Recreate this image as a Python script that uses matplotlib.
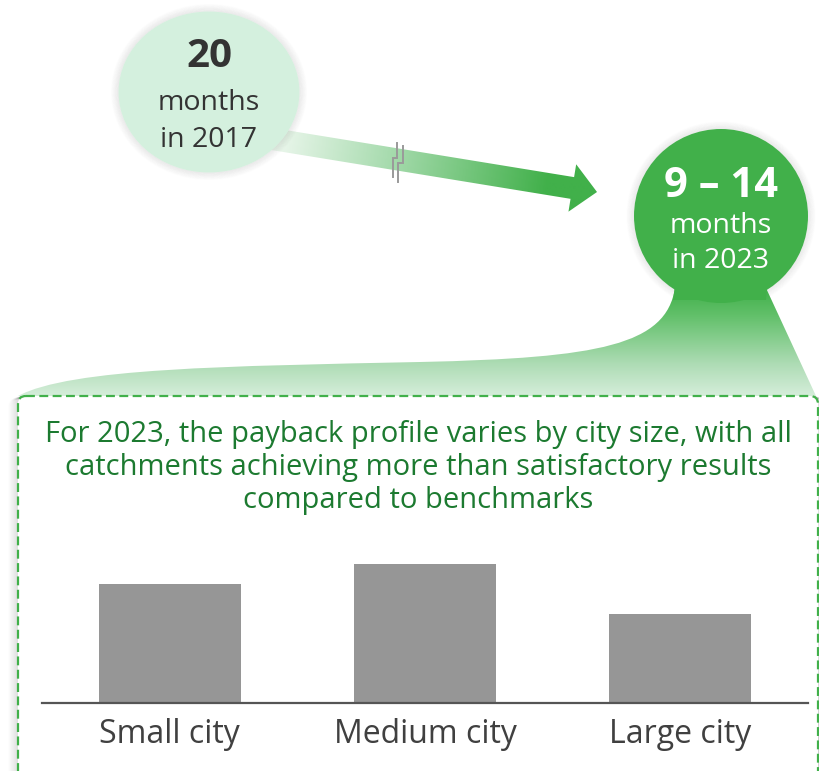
import numpy as np
import matplotlib
matplotlib.use("Agg")
import matplotlib.pyplot as plt
from matplotlib.patches import Circle, Ellipse, Polygon, PathPatch, FancyBboxPatch
from matplotlib.path import Path
from matplotlib.colors import LinearSegmentedColormap

plt.rcParams['font.family'] = ['Open Sans', 'DejaVu Sans']

# Data
categories = ["Small city", "Medium city", "Large city"]
payback_months = [12, 14, 9]
old_value, old_label = "20", ["months", "in 2017"]
new_value, new_label = "9 \u2013 14", ["months", "in 2023"]
headline = ["For 2023, the payback profile varies by city size, with all",
            "catchments achieving more than satisfactory results",
            "compared to benchmarks"]

GREEN = "#41b04a"
LIGHT = "#d4f0de"
DARK_TEXT = "#333333"
TEXT_GREEN = "#1c7a30"
BAR_GREY = "#969696"

W, H = 820, 771
fig = plt.figure(figsize=(W / 100, H / 100), dpi=100)
ax = fig.add_axes([0, 0, 1, 1])
ax.set_xlim(0, W)
ax.set_ylim(H, 0)
ax.axis("off")


def gradient_fill(ax, patch, x0, x1, y0, y1, field, cmap, zorder):
    """Fill a patch with a colour field evaluated on its bounding box."""
    ax.add_patch(patch)
    patch.set_visible(False)
    im = ax.imshow(field, cmap=cmap, vmin=0, vmax=1, extent=[x0, x1, y1, y0],
                   origin="upper", interpolation="bilinear", zorder=zorder,
                   aspect="auto")
    im.set_clip_path(patch)
    return im


# Soft shadow beside the panel
for i in range(10):
    ax.add_patch(FancyBboxPatch((18 - i, 396 + i * 0.3), 800 + 2 * i, 400,
                                boxstyle="round,pad=0,rounding_size=8",
                                fc="none", ec="#000000", lw=1.2,
                                alpha=0.008 * (10 - i), zorder=1))

# Panel with dashed outline
panel = FancyBboxPatch((18, 396), 800, 420, boxstyle="round,pad=0,rounding_size=8",
                       fc="white", ec="none", zorder=2)
ax.add_patch(panel)

# Funnel from the 2023 bubble down to the panel
verts = [(675, 288),
         (666, 345), (600, 358), (420, 362),
         (230, 366), (70, 368), (18, 396),
         (816, 396),
         (766, 288),
         (675, 288)]
codes = [Path.MOVETO,
         Path.CURVE4, Path.CURVE4, Path.CURVE4,
         Path.CURVE4, Path.CURVE4, Path.CURVE4,
         Path.LINETO, Path.LINETO, Path.CLOSEPOLY]
funnel = PathPatch(Path(verts, codes), transform=ax.transData)
fy = np.linspace(0, 1, 200)[:, None] * np.ones((1, 10))
funnel_cmap = LinearSegmentedColormap.from_list(
    "funnel", [(0, GREEN), (0.25, "#62c06a"), (0.7, "#aedcb5"), (1, "#d6eedb")])
gradient_fill(ax, funnel, 0, 820, 288, 397, fy, funnel_cmap, zorder=3)

panel_edge = FancyBboxPatch((18, 396), 800, 420, boxstyle="round,pad=0,rounding_size=8",
                            fc="none", ec=GREEN, lw=1.6, ls=(0, (4, 2)), zorder=4)
ax.add_patch(panel_edge)

# Arrow from 2017 to 2023
start = np.array([272.0, 139.0])
tip = np.array([597.0, 192.0])
d = tip - start
L = np.hypot(*d)
u = d / L
n = np.array([-u[1], u[0]])
head_len, head_half, shaft_half = 25, 24, 11
local = [(0, -shaft_half), (L - head_len, -shaft_half), (L - head_len, -head_half),
         (L, 0), (L - head_len, head_half), (L - head_len, shaft_half), (0, shaft_half)]
arrow_pts = [start + a * u + b * n for a, b in local]
arrow = Polygon(arrow_pts, closed=True, transform=ax.transData)
gx, gy = np.meshgrid(np.linspace(250, 620, 300), np.linspace(100, 230, 120))
t = np.clip(((gx - start[0]) * u[0] + (gy - start[1]) * u[1]) / L, 0, 1)
arrow_cmap = LinearSegmentedColormap.from_list(
    "arrow", [(0, "#eef8ef"), (0.35, "#a9dcb0"), (0.85, GREEN), (1, GREEN)])
gradient_fill(ax, arrow, 250, 620, 100, 230, t, arrow_cmap, zorder=5)

# Axis-break marks on the arrow
brk = dict(color="#9a9a9a", lw=1.4, zorder=6, solid_joinstyle="miter")
ax.plot([397, 397, 393, 393], [143, 158, 158, 177], **brk)
ax.plot([403, 403, 398, 398], [146, 163, 163, 182], **brk)

# Bubbles (with faint halos)
old_c, old_w, old_h = (209, 92), 181, 161
new_c, new_r = (721, 216), 87
for i in range(10):
    ax.add_patch(Ellipse(old_c, old_w + i * 1.6, old_h + i * 1.6, fc="none",
                         ec="#000000", lw=1.0, alpha=0.005 * (10 - i), zorder=6))
    ax.add_patch(Circle(new_c, new_r + i * 0.8, fc="none", ec="#000000", lw=1.0,
                        alpha=0.005 * (10 - i), zorder=2.5))
ax.add_patch(Ellipse(old_c, old_w, old_h, fc=LIGHT, ec="none", zorder=7))
ax.add_patch(Circle(new_c, new_r, fc=GREEN, ec="none", zorder=7))
ax.add_patch(Polygon([(675, 286), (767, 286), (766, 300), (673, 300)], closed=True,
                     fc=GREEN, ec="none", zorder=3.5))

ax.text(209, 67, old_value, ha="center", va="baseline", fontsize=29,
        fontweight="bold", color=DARK_TEXT, zorder=8)
ax.text(209, 110, old_label[0], ha="center", va="baseline", fontsize=20.5,
        color=DARK_TEXT, zorder=8)
ax.text(209, 147, old_label[1], ha="center", va="baseline", fontsize=20.5,
        color=DARK_TEXT, zorder=8)
ax.text(721, 197, new_value, ha="center", va="baseline", fontsize=30,
        fontweight="bold", color="white", zorder=8)
ax.text(721, 233, new_label[0], ha="center", va="baseline", fontsize=20.5,
        color="white", zorder=8)
ax.text(721, 268, new_label[1], ha="center", va="baseline", fontsize=20.5,
        color="white", zorder=8)

# Headline inside the panel
for line, yb in zip(headline, [442, 475, 508]):
    ax.text(418, yb, line, ha="center", va="baseline", fontsize=21,
            color=TEXT_GREEN, zorder=8)

# Bar chart
bar_left, bar_right, base_y = 42, 808, 703
ymax = 16
px_per_unit = 139 / 14
bar_h = ymax * px_per_unit
bax = fig.add_axes([bar_left / W, (H - base_y) / H, (bar_right - bar_left) / W, bar_h / H])
bax.patch.set_alpha(0)
x = np.arange(len(categories))
bax.bar(x, payback_months, width=0.555, color=BAR_GREY)
bax.set_xlim(-0.5, 2.5)
bax.set_ylim(0, ymax)
for side in ("top", "right", "left"):
    bax.spines[side].set_visible(False)
bax.spines["bottom"].set_color("#555555")
bax.spines["bottom"].set_linewidth(1.6)
bax.set_yticks([])
bax.set_xticks(x, categories)
bax.tick_params(axis="x", length=0, pad=11, labelsize=23, labelcolor="#404040")

fig.savefig("out.png", dpi=100)
